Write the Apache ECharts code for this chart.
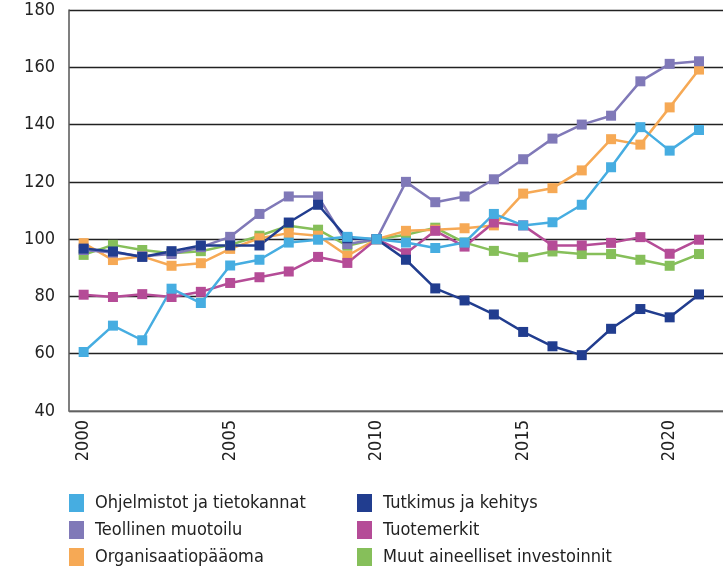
<!DOCTYPE html>
<html>
<head>
<meta charset="utf-8">
<script src="https://cdn.jsdelivr.net/npm/echarts@6/dist/echarts.min.js"></script>
<style>
  html, body { margin: 0; padding: 0; background: #fff; }
  #chart { width: 723px; height: 571px; }
</style>
</head>
<body>
<div id="chart"></div>
<script>
let years = [2000, 2001, 2002, 2003, 2004, 2005, 2006, 2007, 2008, 2009, 2010,
  2011, 2012, 2013, 2014, 2015, 2016, 2017, 2018, 2019, 2020, 2021];
let yearTicks = [2000, 2005, 2010, 2015, 2020];

let ohjelmistot = [60.6, 69.8, 64.7, 82.7, 77.7, 90.8, 92.8, 98.8, 99.8, 100.8, 100,
  98.8, 96.9, 98.8, 108.8, 104.8, 105.9, 112, 125.1, 139.1, 130.9, 138.1];
let tutkimus = [96.7, 95.7, 93.8, 95.8, 97.8, 97.8, 97.8, 105.8, 112, 100.3, 100,
  92.8, 82.8, 78.6, 73.7, 67.6, 62.6, 59.5, 68.7, 75.6, 72.7, 80.7];
let teollinen = [96.2, 95.3, 94, 94.8, 97.2, 100.8, 108.8, 114.9, 114.9, 98.3, 100,
  120, 112.9, 114.9, 120.9, 127.9, 135.1, 140, 143.1, 155.1, 161.2, 162.1];
let tuotemerkit = [80.6, 79.8, 80.8, 79.8, 81.6, 84.7, 86.7, 88.7, 93.8, 91.7, 100,
  95.1, 102.9, 97.4, 105.8, 104.8, 97.8, 97.8, 98.7, 100.7, 94.9, 99.8];
let organisaatio = [98.6, 92.7, 94, 90.7, 91.6, 96.6, 100.3, 102.1, 101.2, 94.2, 100,
  102.9, 103.3, 103.8, 104.8, 115.9, 117.8, 124, 134.9, 133, 146, 159.2];
let muut = [94.5, 98, 96.2, 95.1, 95.8, 98, 101.2, 104.7, 103.3, 97.7, 100,
  101.5, 104, 98.8, 95.9, 93.7, 95.7, 94.8, 94.8, 92.8, 90.7, 94.8];

let font = "'Liberation Sans Narrow', 'DejaVu Sans Condensed', sans-serif";

function makeSeries(name, values, color) {
  return {
    name: name,
    type: 'line',
    data: years.map((y, i) => [y, values[i]]),
    symbol: 'rect',
    symbolSize: 10,
    lineStyle: { color: color, width: 2.5 },
    itemStyle: { color: color },
    animation: false,
  };
}

let legendBase = {
  orient: 'vertical',
  top: 494,
  height: 80,
  padding: 0,
  itemWidth: 15,
  itemHeight: 18,
  itemGap: 9,
  icon: 'rect',
  textStyle: { fontFamily: font, fontSize: 18, color: '#222', padding: [0, 0, 0, 6] },
};

let chart = echarts.init(document.getElementById('chart'));
let option = {
  backgroundColor: '#fff',
  grid: { left: 69, right: 0, top: 10, bottom: 160 },
  xAxis: {
    type: 'value',
    min: 1999.5,
    max: 2021.82,
    splitLine: { show: false },
    axisLine: { show: true, lineStyle: { color: '#777', width: 1.5 } },
    axisTick: { show: false },
    axisLabel: {
      customValues: yearTicks,
      formatter: v => String(v),
      rotate: 90,
      fontFamily: font,
      fontSize: 18,
      color: '#222',
      margin: 9,
    },
  },
  yAxis: {
    type: 'value',
    min: 40,
    max: 180,
    interval: 20,
    axisLine: { show: true, lineStyle: { color: '#555', width: 1.5 } },
    axisTick: { show: false },
    splitLine: { lineStyle: { color: '#222', width: 1.3 } },
    axisLabel: { fontFamily: font, fontSize: 18, color: '#222', margin: 14 },
  },
  legend: [
    Object.assign({}, legendBase, {
      left: 69,
      data: ['Ohjelmistot ja tietokannat', 'Teollinen muotoilu', 'Organisaatiopääoma'],
    }),
    Object.assign({}, legendBase, {
      left: 357,
      data: ['Tutkimus ja kehitys', 'Tuotemerkit', 'Muut aineelliset investoinnit'],
    }),
  ],
  series: [
    makeSeries('Muut aineelliset investoinnit', muut, '#86bf5a'),
    makeSeries('Organisaatiopääoma', organisaatio, '#f6a955'),
    makeSeries('Tuotemerkit', tuotemerkit, '#b54c97'),
    makeSeries('Teollinen muotoilu', teollinen, '#8079b8'),
    makeSeries('Tutkimus ja kehitys', tutkimus, '#213d8f'),
    makeSeries('Ohjelmistot ja tietokannat', ohjelmistot, '#46ade1'),
  ],
};
chart.setOption(option);
</script>
</body>
</html>
